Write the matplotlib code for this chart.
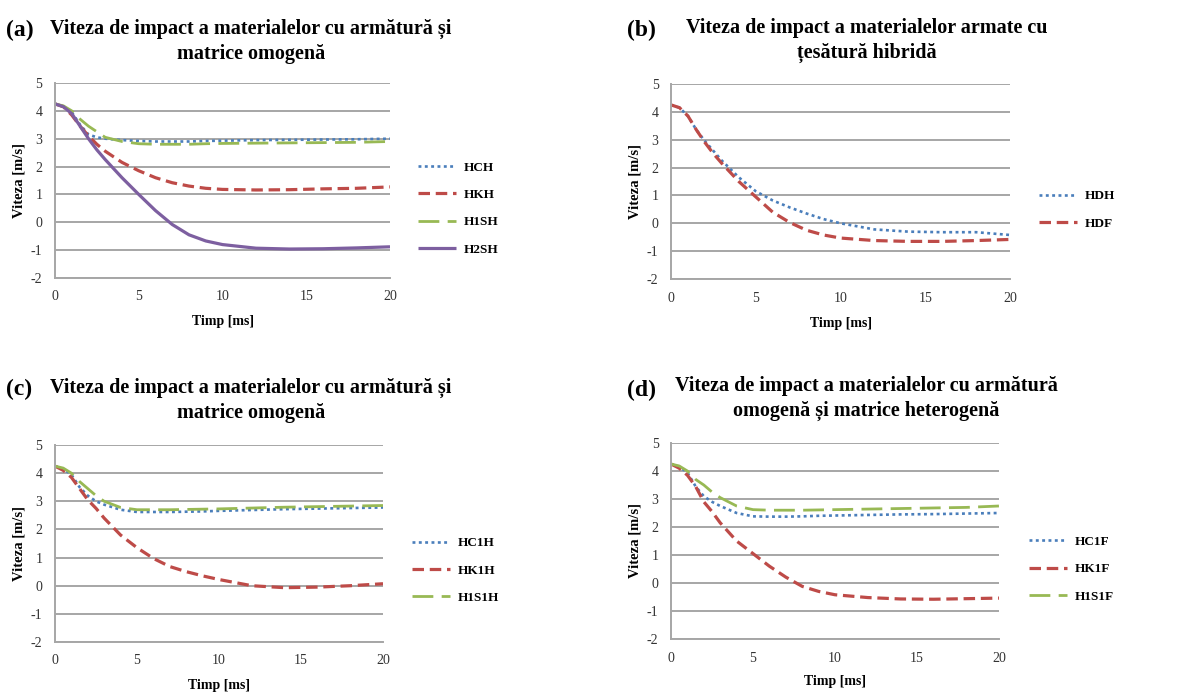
import matplotlib
matplotlib.use("Agg")
import matplotlib.pyplot as plt

plt.rcParams['font.family'] = ['Liberation Serif', 'DejaVu Serif']
plt.rcParams['axes.unicode_minus'] = False

# time axis [ms], shared by every series
t = [0, 0.5, 1, 1.5, 2, 2.5, 3, 4, 5, 6, 7, 8, 9, 10, 12, 14, 16, 18, 20]

# (a)
HCH = [4.25, 4.15, 3.95, 3.5, 3.15, 3.05, 3.0, 2.95, 2.92, 2.9, 2.9, 2.9, 2.92, 2.93, 2.95, 2.96, 2.97, 2.98, 3.0]
HKH = [4.25, 4.15, 3.85, 3.45, 3.1, 2.8, 2.55, 2.15, 1.85, 1.6, 1.42, 1.3, 1.22, 1.18, 1.16, 1.17, 1.2, 1.22, 1.27]
H1SH = [4.25, 4.18, 4.0, 3.7, 3.45, 3.25, 3.05, 2.9, 2.82, 2.8, 2.8, 2.8, 2.82, 2.83, 2.84, 2.85, 2.86, 2.87, 2.9]
H2SH = [4.25, 4.15, 3.9, 3.45, 3.0, 2.6, 2.25, 1.6, 1.0, 0.42, -0.08, -0.45, -0.67, -0.8, -0.93, -0.96, -0.95, -0.92, -0.88]

# (b)
HDH = [4.25, 4.15, 3.85, 3.35, 2.95, 2.6, 2.25, 1.65, 1.15, 0.82, 0.57, 0.35, 0.15, 0.0, -0.22, -0.3, -0.32, -0.32, -0.42]
HDF = [4.25, 4.15, 3.85, 3.35, 2.9, 2.5, 2.15, 1.5, 0.95, 0.4, 0.03, -0.25, -0.42, -0.53, -0.62, -0.65, -0.65, -0.62, -0.58]

# (c)
HC1H = [4.25, 4.15, 3.95, 3.5, 3.2, 3.0, 2.88, 2.7, 2.62, 2.62, 2.62, 2.63, 2.64, 2.66, 2.69, 2.72, 2.74, 2.76, 2.78]
HK1H = [4.25, 4.1, 3.85, 3.45, 3.05, 2.75, 2.4, 1.8, 1.35, 0.97, 0.68, 0.5, 0.35, 0.22, 0.0, -0.07, -0.05, 0.0, 0.07]
H1S1H = [4.25, 4.18, 4.0, 3.7, 3.45, 3.2, 3.0, 2.78, 2.7, 2.7, 2.7, 2.71, 2.72, 2.73, 2.76, 2.79, 2.81, 2.83, 2.85]

# (d)
HC1F = [4.25, 4.15, 3.95, 3.45, 3.1, 2.9, 2.75, 2.5, 2.38, 2.37, 2.37, 2.38, 2.4, 2.41, 2.43, 2.45, 2.46, 2.48, 2.5]
HK1F = [4.25, 4.1, 3.85, 3.45, 2.9, 2.55, 2.15, 1.5, 1.05, 0.6, 0.21, -0.12, -0.3, -0.42, -0.52, -0.57, -0.58, -0.56, -0.54]
H1S1F = [4.25, 4.18, 4.0, 3.7, 3.5, 3.25, 3.05, 2.75, 2.62, 2.6, 2.6, 2.6, 2.61, 2.62, 2.64, 2.66, 2.68, 2.7, 2.75]

BLUE = "#4A7EBB"
RED = "#BE4B48"
GREEN = "#98B954"
PURPLE = "#7D5FA0"

STY = {
    "dot": dict(color=BLUE, lw=1.9, dashes=(1.1, 1.3)),
    "dash": dict(color=RED, lw=2.3, dashes=(3.6, 1.8)),
    "long": dict(color=GREEN, lw=2.0, dashes=(7.5, 3.0)),
    "solid": dict(color=PURPLE, lw=2.3, ls="-"),
}

W, H = 1184, 693
fig = plt.figure(figsize=(W / 100, H / 100), dpi=100)


def px_axes(left, top, right, bottom):
    return fig.add_axes([left / W, 1 - bottom / H, (right - left) / W, (bottom - top) / H])


panels = [
    dict(box=(55, 83, 390, 278), tag="(a)", tag_xy=(6, 30),
         title="Viteza de impact a materialelor cu armătură și\nmatrice omogenă", title_x=251, title_y=29,
         series=[(HCH, "HCH", "dot"), (HKH, "HKH", "dash"), (H1SH, "H1SH", "long"), (H2SH, "H2SH", "solid")],
         leg=(418, 208.5), xl_y=322),
    dict(box=(671, 84, 1010, 279), tag="(b)", tag_xy=(627, 30),
         title="Viteza de impact a materialelor armate cu\nțesătură hibridă", title_x=867, title_y=28,
         series=[(HDH, "HDH", "dot"), (HDF, "HDF", "dash")],
         leg=(1039, 210), xl_y=323),
    dict(box=(55, 445, 383, 642), tag="(c)", tag_xy=(6, 389),
         title="Viteza de impact a materialelor cu armătură și\nmatrice omogenă", title_x=251, title_y=388,
         series=[(HC1H, "HC1H", "dot"), (HK1H, "HK1H", "dash"), (H1S1H, "H1S1H", "long")],
         leg=(412, 570.5), xl_y=685),
    dict(box=(671, 443, 999, 639), tag="(d)", tag_xy=(627, 390),
         title="Viteza de impact a materialelor cu armătură\nomogenă și matrice heterogenă", title_x=866, title_y=386,
         series=[(HC1F, "HC1F", "dot"), (HK1F, "HK1F", "dash"), (H1S1F, "H1S1F", "long")],
         leg=(1029, 569), xl_y=682),
]

for p in panels:
    l, tp, r, b = p["box"]
    ax = px_axes(l, tp, r, b)
    for vals, name, key in p["series"]:
        ax.plot(t, vals, label=name, solid_capstyle="butt", dash_capstyle="butt", **STY[key])
    ax.set_xlim(0, 20)
    ax.set_ylim(-2, 5)
    ax.set_xticks([0, 5, 10, 15, 20])
    ax.set_yticks(range(-2, 6))
    ax.grid(axis="y", color="#A6A6A6", lw=1.4)
    ax.set_axisbelow(True)
    for s in ("top", "right"):
        ax.spines[s].set_visible(False)
    for s in ("left", "bottom"):
        ax.spines[s].set_color("#A6A6A6")
        ax.spines[s].set_linewidth(1.4)
    ax.tick_params(length=0, labelsize=10, labelcolor="#333333", pad=9)
    ax.set_ylabel("Viteza [m/s]", fontsize=10.5, fontweight="bold", labelpad=4)
    fig.text((l + r) / 2 / W, 1 - p["xl_y"] / H, "Timp [ms]", fontsize=10, fontweight="bold",
             ha="center", va="center")
    fig.text(p["tag_xy"][0] / W, 1 - p["tag_xy"][1] / H, p["tag"], fontsize=17, fontweight="bold",
             ha="left", va="center")
    # first line centred on title_y, second line ~26 px lower
    fig.text(p["title_x"] / W, 1 - (p["title_y"] - 10) / H, p["title"], fontsize=14.5, fontweight="bold",
             ha="center", va="top", linespacing=1.3)
    lx, ly = p["leg"]
    ax.legend(loc="center left", bbox_to_anchor=(lx / W, 1 - ly / H), bbox_transform=fig.transFigure,
              frameon=False, borderpad=0, borderaxespad=0, handlelength=2.9, handletextpad=0.55,
              labelspacing=1.15, prop=dict(size=9.5, weight="bold"))

fig.savefig("out.png", dpi=100)
